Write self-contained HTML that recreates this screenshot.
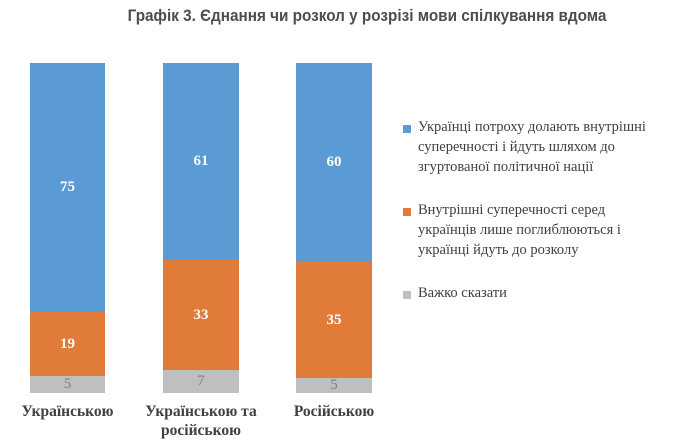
<!DOCTYPE html>
<html><head><meta charset="utf-8"><style>
body{margin:0;width:690px;height:442px;background:#fff;position:relative;overflow:hidden;font-family:"Liberation Serif",serif;color:#404040}
.t{position:absolute;left:0;width:734px;top:6px;text-align:center;font:bold 17px "Liberation Sans",sans-serif;color:#4d4d4d;transform:scaleX(0.9);transform-origin:367px 0}
.s{position:absolute;display:flex;align-items:center;justify-content:center;font-weight:bold;color:#fff;font-size:15px}
.b{background:#5b9bd5}.o{background:#e07b39}.g{background:#bfbfbf;color:#7f7f7f;font-weight:normal}
.c{position:absolute;text-align:center;font-weight:bold;font-size:15.5px;line-height:19px;color:#404040}
.l{position:absolute;left:418px;font-size:14.5px;line-height:20px;color:#404040}
.k{position:absolute;left:403px;width:8px;height:8px}
</style></head><body>
<div class="t">Графік 3. Єднання чи розкол у розрізі мови спілкування вдома</div>

<div class="s b" style="left:30px;width:75px;top:63px;height:249px">75</div>
<div class="s o" style="left:30px;width:75px;top:312px;height:64px">19</div>
<div class="s g" style="left:30px;width:75px;top:376px;height:17px">5</div>

<div class="s b" style="left:163px;width:76px;top:63px;height:197px">61</div>
<div class="s o" style="left:163px;width:76px;top:260px;height:110px">33</div>
<div class="s g" style="left:163px;width:76px;top:370px;height:23px">7</div>

<div class="s b" style="left:296px;width:76px;top:63px;height:199px">60</div>
<div class="s o" style="left:296px;width:76px;top:262px;height:116px">35</div>
<div class="s g" style="left:296px;width:76px;top:378px;height:15px">5</div>

<div class="c" style="left:0;width:135px;top:402px">Українською</div>
<div class="c" style="left:131px;width:140px;top:402px">Українською та<br>російською</div>
<div class="c" style="left:264px;width:140px;top:402px">Російською</div>

<div class="k b" style="top:125px"></div>
<div class="l" style="top:117px">Українці потроху долають внутрішні<br>суперечності і йдуть шляхом до<br>згуртованої політичної нації</div>
<div class="k o" style="top:208px"></div>
<div class="l" style="top:200px">Внутрішні суперечності серед<br>українців лише поглиблюються і<br>українці йдуть до розколу</div>
<div class="k g" style="top:291px"></div>
<div class="l" style="top:283px">Важко сказати</div>
</body></html>
